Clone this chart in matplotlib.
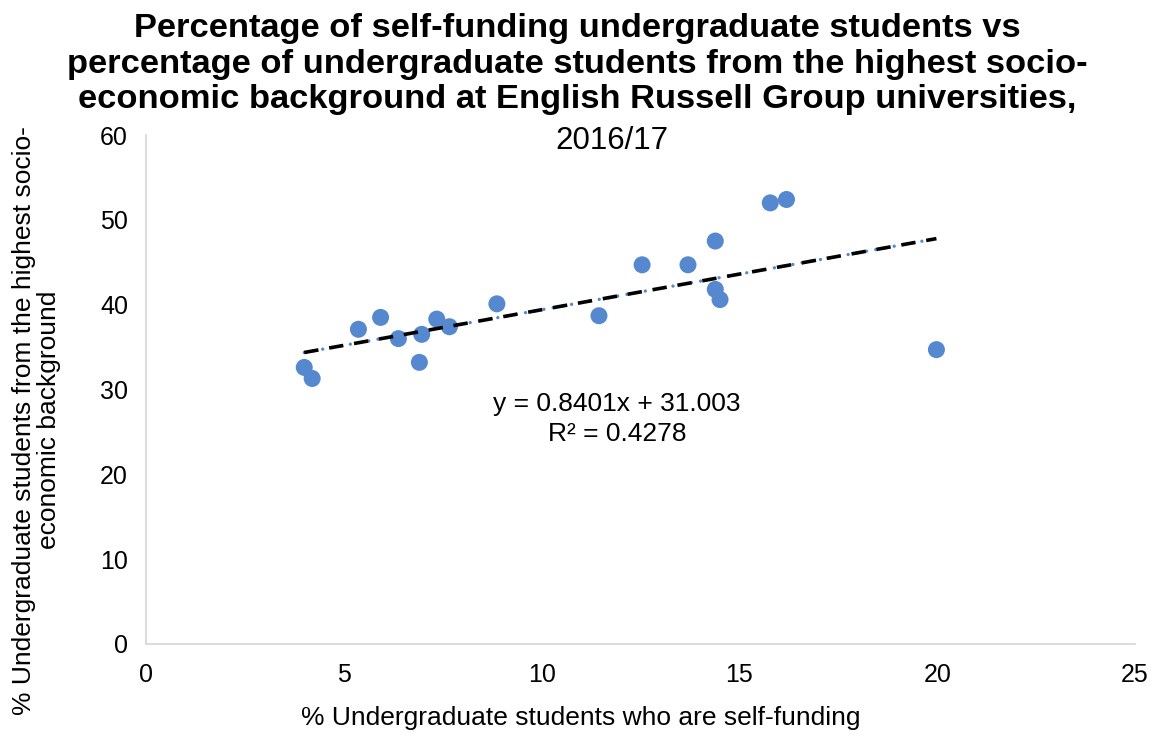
import numpy as np
import matplotlib.pyplot as plt

plt.rcParams['font.family'] = ['Liberation Sans', 'DejaVu Sans']

# % self-funding undergraduates (x) vs % from highest socio-economic background (y)
self_funding = [4.0, 4.2, 5.37, 5.93, 6.38, 6.91, 6.97, 7.35, 7.67, 8.87,
                11.45, 12.54, 13.70, 14.39, 14.51, 14.39, 15.78, 16.19, 19.98]
high_ses = [32.6, 31.3, 37.1, 38.5, 36.0, 33.2, 36.5, 38.3, 37.4, 40.1,
            38.7, 44.7, 44.7, 41.8, 40.6, 47.5, 52.0, 52.4, 34.7]

# trendline as reported on the chart
slope = 0.8401
intercept = 31.003
r_squared = 0.4278

fig = plt.figure(figsize=(11.55, 7.37), dpi=100)
ax = fig.add_axes([0.1264, 0.1262, 0.8563, 0.6906])

ax.scatter(self_funding, high_ses, s=150, color='#5588CF', edgecolors='none', zorder=3)

xs = np.array([min(self_funding), max(self_funding)])
ys = slope * xs + intercept
# excel's dotted blue trendline with a black dashed one on top
ax.plot(xs, ys, color='#5588CF', lw=2.4, linestyle=(0, (0.01, 2.8)),
        dash_capstyle='round', zorder=2)
ax.plot(xs, ys, color='black', lw=2.6, linestyle=(0, (4, 3)), zorder=4)

ax.text(11.9, 28.3, 'y = %.4fx + %.3f' % (slope, intercept), ha='center', va='center', fontsize=19)
ax.text(11.9, 24.8, 'R² = %.4f' % r_squared, ha='center', va='center', fontsize=19)

ax.set_xlim(0, 25)
ax.set_ylim(0, 60)
ax.set_xticks(range(0, 26, 5))
ax.set_yticks(range(0, 61, 10))
ax.tick_params(length=0, labelsize=18, colors='#000000')
ax.tick_params(axis='x', pad=14)
ax.tick_params(axis='y', pad=13)
for side in ['top', 'right']:
    ax.spines[side].set_visible(False)
for side in ['left', 'bottom']:
    ax.spines[side].set_color('#d9d9d9')
    ax.spines[side].set_linewidth(1.3)

fig.text(0.5, 0.913, 'Percentage of self-funding undergraduate students vs\n'
         'percentage of undergraduate students from the highest socio-\n'
         'economic background at English Russell Group universities,',
         ha='center', va='center', fontsize=24.8, fontweight='bold', linespacing=1.18)
fig.text(0.53, 0.809, '2016/17', ha='center', va='center', fontsize=22.5)

fig.text(0.503, 0.026, '% Undergraduate students who are self-funding',
         ha='center', va='center', fontsize=19)
fig.text(0.032, 0.43, '% Undergraduate students from the highest socio-\neconomic background',
         ha='center', va='center', fontsize=19, rotation=90, linespacing=1.05)

fig.savefig('out.png', dpi=100)
